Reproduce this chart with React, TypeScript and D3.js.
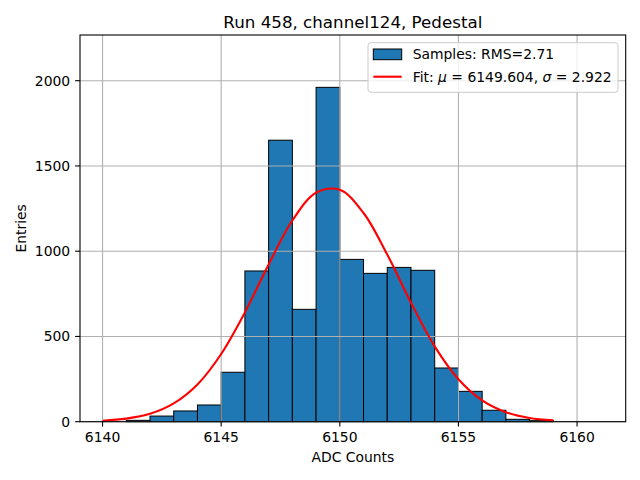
import React from 'react'
import * as d3 from 'd3'

// histogram bins (left edges) and counts
const binEdges = [6140, 6141, 6142, 6143, 6144, 6145, 6146, 6147, 6148, 6149, 6150,
  6151, 6152, 6153, 6154, 6155, 6156, 6157, 6158, 6159, 6160]
const counts = [0, 8, 33, 63, 98, 290, 884, 1651, 659, 1961, 952,
  870, 905, 888, 315, 178, 67, 14, 6, 0, 0]

// gaussian fit curve, read at integer ADC values
const fitX = [6140, 6141, 6142, 6143, 6144, 6145, 6146, 6147, 6148, 6149,
  6150, 6151, 6152, 6153, 6154, 6155, 6156, 6157, 6158, 6159]
const fitY = [6, 18, 46, 107, 218, 397, 641, 922, 1180, 1343,
  1360, 1224, 980, 698, 442, 249, 125, 56, 22, 8]

const xTicks = [6140, 6145, 6150, 6155, 6160]
const yTicks = [0, 500, 1000, 1500, 2000]

const title = 'Run 458, channel124, Pedestal'
const sampleLabel = 'Samples: RMS=2.71'

const W = 640
const H = 480
const margin = { top: 35, right: 14.3, bottom: 58.3, left: 80 }
const innerW = W - margin.left - margin.right
const innerH = H - margin.top - margin.bottom
const font = 'DejaVu Sans, sans-serif'

export default function App() {
  const x = d3.scaleLinear().domain([6139.05, 6162.05]).range([0, innerW])
  const y = d3.scaleLinear().domain([0, 2268]).range([innerH, 0])

  const line = d3
    .line<number>()
    .x((d, i) => x(fitX[i]))
    .y((d) => y(d))
    .curve(d3.curveCatmullRom)

  return (
    <svg
      width={W}
      height={H}
      style={{ position: 'absolute', left: 0, top: 0, background: 'white' }}
      fontFamily={font}
    >
      <rect width={W} height={H} fill="white" />
      <g transform={`translate(${margin.left},${margin.top})`}>
        {/* bars */}
        {counts.map((c, i) =>
          c > 0 ? (
            <rect
              key={i}
              x={x(binEdges[i])}
              y={y(c)}
              width={x(binEdges[i] + 1) - x(binEdges[i])}
              height={innerH - y(c)}
              fill="#1f77b4"
              stroke="black"
              strokeWidth={1}
            />
          ) : null
        )}
        {/* grid */}
        {xTicks.map((t) => (
          <line key={'gx' + t} x1={x(t)} x2={x(t)} y1={0} y2={innerH} stroke="#b0b0b0" strokeWidth={1.1} />
        ))}
        {yTicks.map((t) => (
          <line key={'gy' + t} x1={0} x2={innerW} y1={y(t)} y2={y(t)} stroke="#b0b0b0" strokeWidth={1.1} />
        ))}
        {/* fit */}
        <path d={line(fitY) || ''} fill="none" stroke="red" strokeWidth={2.1} />
        {/* frame */}
        <rect x={0} y={0} width={innerW} height={innerH} fill="none" stroke="black" strokeWidth={1.1} />
        {/* x axis */}
        {xTicks.map((t) => (
          <g key={'tx' + t} transform={`translate(${x(t)},${innerH})`}>
            <line y1={0} y2={4.9} stroke="black" strokeWidth={1.1} />
            <text y={20} textAnchor="middle" fontSize={13.9} fill="black">{t}</text>
          </g>
        ))}
        {yTicks.map((t) => (
          <g key={'ty' + t} transform={`translate(0,${y(t)})`}>
            <line x1={0} x2={-4.9} stroke="black" strokeWidth={1.1} />
            <text x={-9.8} dy="0.35em" textAnchor="end" fontSize={13.9} fill="black">{t}</text>
          </g>
        ))}
        <text x={innerW / 2} y={innerH + 40} textAnchor="middle" fontSize={13.9}>ADC Counts</text>
        <text
          transform={`translate(${-54},${innerH / 2}) rotate(-90)`}
          textAnchor="middle"
          fontSize={13.9}
        >
          Entries
        </text>
        <text x={innerW / 2} y={-7.5} textAnchor="middle" fontSize={16.7}>{title}</text>

        {/* legend */}
        <g transform={`translate(${288},${7.7})`}>
          <rect x={0} y={0} width={250} height={49.6} rx={3} fill="white" fillOpacity={0.8} stroke="#cccccc" strokeWidth={1} />
          <rect x={5.3} y={6.3} width={28.4} height={10.7} fill="#1f77b4" stroke="black" strokeWidth={1} />
          <text x={44.7} y={11.7} dy="0.35em" fontSize={13.9}>{sampleLabel}</text>
          <line x1={5.3} x2={33.7} y1={34} y2={34} stroke="red" strokeWidth={2.1} />
          <text x={44.7} y={34} dy="0.35em" fontSize={13.9}>
            Fit: <tspan fontStyle="italic">μ</tspan> = 6149.604, <tspan fontStyle="italic">σ</tspan> = 2.922
          </text>
        </g>
      </g>
    </svg>
  )
}
